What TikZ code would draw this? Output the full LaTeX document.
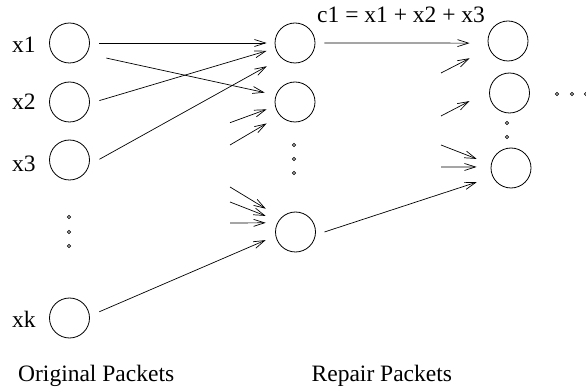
\documentclass[tikz,border=0pt]{standalone}
\usepackage{fontspec}
\setmainfont{Liberation Serif}
\usepackage{tikz}
\usetikzlibrary{arrows.meta, positioning, calc}

\begin{document}
\begin{tikzpicture}[
    x=1pt, y=-1pt,
    every node/.style={font=\fontsize{23.5}{27}\selectfont, inner sep=0pt},
    pkt/.style={circle, draw, line width=0.8pt, minimum size=40pt},
    arrow/.style={-{Straight Barb[length=11pt, width=7pt]}, line width=0.7pt},
    dotc/.style={line width=0.6pt}
]
\useasboundingbox (0,0) rectangle (586,387);

% Original packets (left column)
\node[pkt] (x1) at (69.5,43) {};
\node[pkt] (x2) at (69.5,102) {};
\node[pkt] (x3) at (69.5,160) {};
\node[pkt] (xk) at (69.5,318) {};
\node[anchor=base west] (lx1) at (12,53) {x1};
\node[anchor=base west] (lx2) at (12,110) {x2};
\node[anchor=base west] (lx3) at (12,172) {x3};
\node[anchor=base west] (lxk) at (12,327) {xk};

% Repair packets (middle column)
\node[pkt] (m1) at (295,43) {};
\node[pkt] (m2) at (295,102) {};
\node[pkt] (m3) at (295.5,232) {};

% Right column
\node[pkt] (r1) at (508,41) {};
\node[pkt] (r2) at (509.5,93) {};
\node[pkt] (r3) at (511,168) {};

% Labels
\node[anchor=base west] (eq) at (317,22.7) {c1 = x1 + x2 + x3};
\node[anchor=base west] (orig) at (18,381.5) {Original Packets};
\node[anchor=base west] (repair) at (311.5,381.5) {Repair Packets};

% Dots
\foreach \y in {217,232,246} \draw[dotc] (69,\y) circle (1.6);
\foreach \y in {145,159,173} \draw[dotc] (294,\y) circle (1.6);
\foreach \y in {123,137} \draw[dotc] (507,\y) circle (1.6);
\foreach \x in {557,572,586} \draw[dotc] (\x,94) circle (1.6);

% Free tails of the short arrows
\coordinate (t1) at (230,122.7);
\coordinate (t2) at (230,145);
\coordinate (t3) at (230,187);
\coordinate (t4) at (230,202);
\coordinate (t5) at (230,223);
\coordinate (t6) at (441,73);
\coordinate (t7) at (441,116);
\coordinate (t8) at (441,145);
\coordinate (t9) at (441,167);

% Original -> repair
\draw[arrow, shorten <=9.5pt, shorten >=8pt] (x1.0) -- (m1.180);
\draw[arrow, shorten <=20pt, shorten >=11.4pt] (x1.328) -- (m2.160);
\draw[arrow, shorten <=10pt, shorten >=9pt] (x2.356) -- (m1.195);
\draw[arrow, shorten <=11.6pt, shorten >=16.7pt] (x3.346) -- (m1.228);
\draw[arrow, shorten <=10.4pt, shorten >=10.7pt] (xk.6) -- (m3.191);
\draw[arrow, shorten >=9pt] (t1) -- (m2.192);
\draw[arrow, shorten >=15.4pt] (t2) -- (m2.222);
\draw[arrow, shorten >=17.6pt] (t3) -- (m3.136);
\draw[arrow, shorten >=13.7pt] (t4) -- (m3.147);
\draw[arrow, shorten >=11.6pt] (t5) -- (m3.153);

% Repair -> right column
\draw[arrow, shorten <=9pt, shorten >=18.1pt] (m1.0) -- (r1.186);
\draw[arrow, shorten <=9.2pt, shorten >=16.8pt] (m3.352) -- (r3.206);
\draw[arrow, shorten >=21.7pt] (t6) -- (r1.201);
\draw[arrow, shorten >=22.1pt] (t7) -- (r2.174);
\draw[arrow, shorten >=15.3pt] (t8) -- (r3.170);
\draw[arrow, shorten >=14pt] (t9) -- (r3.177);

\end{tikzpicture}
\end{document}
